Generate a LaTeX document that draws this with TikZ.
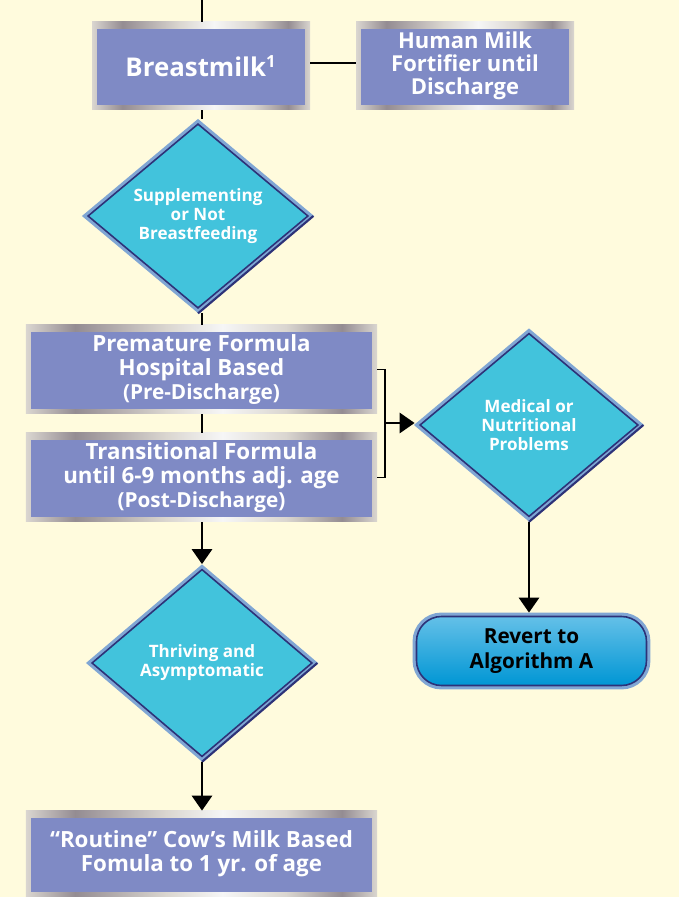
\documentclass[tikz,border=0pt]{standalone}
\usepackage{fontspec}
\setmainfont{Open Sans}
\usetikzlibrary{positioning,arrows.meta,shapes.geometric,calc}

\definecolor{bgyellow}{RGB}{255,251,221}
\definecolor{boxfill}{RGB}{127,138,197}
\definecolor{diafill}{RGB}{66,195,220}
\definecolor{edgeblue}{RGB}{128,166,212}
\definecolor{navy}{RGB}{45,50,120}
\definecolor{metlight}{RGB}{218,214,208}
\definecolor{metdark}{RGB}{148,140,146}
\definecolor{metwhite}{RGB}{246,246,246}
\definecolor{capstop}{RGB}{100,192,232}
\definecolor{capsbot}{RGB}{0,150,212}

\pgfdeclarehorizontalshading{metal}{100bp}{color(0bp)=(metlight); color(25bp)=(metlight);
  color(32bp)=(metdark); color(45bp)=(metlight); color(53bp)=(metwhite);
  color(62bp)=(metlight); color(70bp)=(metdark); color(75bp)=(metlight); color(100bp)=(metlight)}

\begin{document}
\begin{tikzpicture}[
  every node/.style={align=center, text=white},
  box/.style={rectangle, shading=metal, inner sep=0pt,
              minimum width=4.36cm, minimum height=1.76cm,
              font=\bfseries\fontsize{12.5}{13.2}\selectfont,
              path picture={\fill[boxfill]
                ([shift={(2.8pt,2.8pt)}]path picture bounding box.south west) rectangle
                ([shift={(-2.8pt,-4pt)}]path picture bounding box.north east);}},
  wide/.style={box, minimum width=7.02cm, minimum height=1.78cm,
               font=\bfseries\fontsize{12.7}{13.6}\selectfont},
  dia/.style={diamond, fill=diafill, inner sep=0pt, outer sep=2.2pt,
              preaction={draw=edgeblue, line width=4.5pt}, draw=navy, line width=0.9pt,
              font=\bfseries\fontsize{9.7}{10.8}\selectfont},
  caps/.style={rectangle, rounded corners=0.5cm, top color=capstop, bottom color=capsbot,
               outer sep=2.2pt, preaction={draw=edgeblue, line width=4.5pt},
               draw=navy, line width=0.9pt, text=black,
               minimum width=4.6cm, minimum height=1.38cm,
               font=\bfseries\fontsize{11.8}{14}\selectfont},
  line/.style={line width=1.7pt},
  arr/.style={line, -{Triangle[length=0.3cm, width=0.4cm]}},
  brk/.style={line width=1.1pt}
]
\useasboundingbox[fill=bgyellow] (0,0) rectangle (13.58,17.94);

% top row
\coordinate (top) at (4.04,17.94);
\node[box, font=\bfseries\fontsize{14.7}{16}\selectfont] (breast) at (4.02,16.62) {Breastmilk\textsuperscript{\fontsize{9.5}{9.5}\selectfont 1}};
\node[box] (fort) at (9.30,16.62) {Human Milk\\Fortifier until\\Discharge};

% left column
\node[dia, minimum width=4.46cm, minimum height=3.74cm] (supp) at (3.96,13.62) {Supplementing\\or Not\\Breastfeeding};
\node[wide] (prem)  at (4.03,10.55) {Premature Formula\\Hospital Based\\{\fontsize{11.8}{12}\selectfont(Pre-Discharge)}};
\node[wide] (trans) at (4.03,8.39)  {Transitional Formula\\until 6-9 months adj. age\\{\fontsize{11.8}{12}\selectfont(Post-Discharge)}};
\node[dia, minimum width=4.46cm, minimum height=3.8cm] (thri) at (4.04,4.68) {Thriving and\\Asymptomatic};
\node[wide, minimum height=1.72cm] (cow) at (4.03,0.86) {“Routine” Cow’s Milk Based\\Fomula to 1 yr. of age};

% right column
\node[dia, minimum width=4.42cm, minimum height=3.72cm] (medi) at (10.58,9.44) {Medical or\\Nutritional\\Problems};
\node[caps] (revert) at (10.63,4.92) {Revert to\\Algorithm A};
\coordinate (brace) at (7.70,9.48);

% bevel on the lower right edges
\foreach \d in {supp,medi,thri}
  \draw[navy, line width=1.2pt] (\d.east) -- (\d.south);

% connectors
\draw[line] (top) -- (breast.north -| top);
\draw[line] ([yshift=0.06cm]breast.east) -- ([yshift=0.06cm]fort.west);
\draw[line] (breast.south -| top) -- (supp.north -| top);
\draw[line] (supp.south -| top) -- (prem.north -| top);
\draw[line] (prem.south -| top) -- (trans.north -| top);
\draw[arr] (trans.south -| top) -- (thri.north -| top);
\draw[arr] (thri.south) -- (cow.north -| thri.south);
\draw[brk] (prem.east) -- ++(0.16,0) |- (trans.east);
\draw[arr] (brace) -- (brace -| medi.west);
\draw[arr] (medi.south) -- (revert.north -| medi.south);
\end{tikzpicture}
\end{document}
